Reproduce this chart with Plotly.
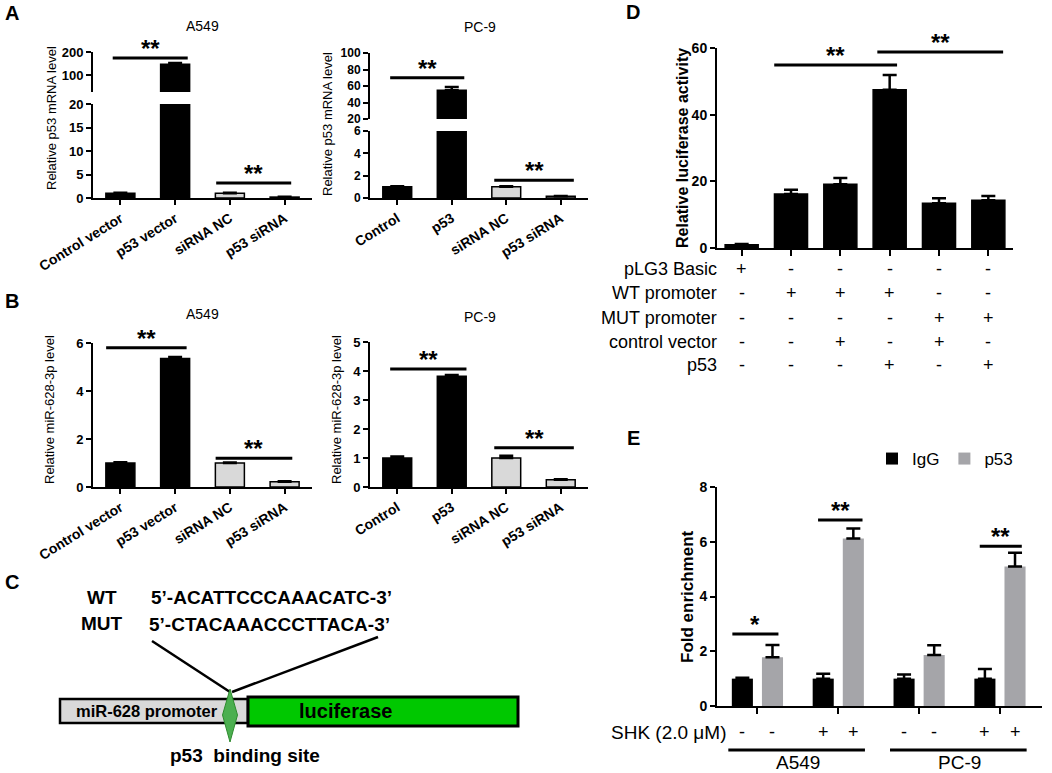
import plotly.graph_objects as go

W, H = 1052, 773
FONT = "Liberation Sans, Arial, Helvetica, sans-serif"

# ---------------- data ----------------
cats_a549 = ["Control vector", "p53 vector", "siRNA NC", "p53 siRNA"]
cats_pc9 = ["Control", "p53", "siRNA NC", "p53 siRNA"]
bar_colors_ab = ["#000000", "#000000", "#d9d9d9", "#d9d9d9"]

a549_mrna = [1.0, 147.0, 1.0, 0.2]
a549_mrna_err = [0.1, 5.5, 0.1, 0.05]
pc9_mrna = [1.0, 55.0, 1.0, 0.15]
pc9_mrna_err = [0.06, 3.8, 0.06, 0.03]

a549_mir = [1.0, 5.35, 1.0, 0.22]
a549_mir_err = [0.03, 0.07, 0.02, 0.02]
pc9_mir = [1.0, 3.82, 1.0, 0.25]
pc9_mir_err = [0.05, 0.04, 0.08, 0.02]

luc_groups = ["g1", "g2", "g3", "g4", "g5", "g6"]
luc_values = [1.0, 16.2, 19.1, 47.5, 13.4, 14.3]
luc_err = [0.2, 1.3, 1.9, 4.4, 1.5, 1.3]
luc_rows = ["pLG3 Basic", "WT promoter", "MUT promoter", "control vector", "p53"]
luc_table = [
    ["+", "-", "-", "-", "-", "-"],
    ["-", "+", "+", "+", "-", "-"],
    ["-", "-", "-", "-", "+", "+"],
    ["-", "-", "+", "-", "+", "-"],
    ["-", "-", "-", "+", "-", "+"],
]

chip_groups = ["A549 -", "A549 +", "PC-9 -", "PC-9 +"]
chip_igg = [1.0, 1.0, 1.0, 1.0]
chip_igg_err = [0.03, 0.18, 0.15, 0.35]
chip_p53 = [1.78, 6.12, 1.86, 5.10]
chip_p53_err = [0.45, 0.36, 0.36, 0.50]
chip_shk = ["-", "+", "-", "+"]
chip_cells = ["A549", "PC-9"]

# ---------------- helpers ----------------
def fx(p):
    return p / W


def fy(p):
    return 1 - p / H


BLACK = "#000000"
fig = go.Figure()
layout = {}
annotations = []
shapes = []

# subplot boxes in pixels: name -> (index, x0, x1, y_top, y_bottom)
boxes = {
    "a1l": (1, 93, 312, 104, 198),
    "a1u": (2, 93, 312, 52, 92),
    "a2l": (3, 370, 588, 131, 198),
    "a2u": (4, 370, 588, 53, 119),
    "b1": (5, 93, 312, 343, 487),
    "b2": (6, 370, 588, 342, 487),
    "d": (7, 717, 1013, 48, 248),
    "e": (8, 717, 1042, 487, 706),
}


def ax_names(key):
    i = boxes[key][0]
    s = "" if i == 1 else str(i)
    return "x" + s, "y" + s, "xaxis" + s, "yaxis" + s


def base_axis(**kw):
    d = dict(
        showgrid=False, zeroline=False, showline=True, linecolor=BLACK, linewidth=2,
        ticks="outside", ticklen=5, tickwidth=2, tickcolor=BLACK,
        tickfont=dict(family=FONT, size=13, color=BLACK, weight="bold"),
        fixedrange=True, automargin=False,
    )
    d.update(kw)
    return d


def set_axes(key, xkw, ykw):
    i, x0, x1, yt, yb = boxes[key]
    xn, yn, xl, yl = ax_names(key)
    layout[xl] = base_axis(domain=[fx(x0), fx(x1)], anchor=yn, **xkw)
    layout[yl] = base_axis(domain=[fy(yb), fy(yt)], anchor=xn, **ykw)


def err(arr):
    return dict(type="data", array=arr, arrayminus=[0] * len(arr), symmetric=False,
                color=BLACK, thickness=2.5, width=7)


def bar_trace(key, cats, vals, errs, colors, width, name=None, showlegend=False, line_w=1.5):
    xn, yn, _, _ = ax_names(key)
    return go.Bar(x=cats, y=vals, xaxis=xn, yaxis=yn, width=width, name=name,
                  showlegend=showlegend,
                  marker=dict(color=colors, line=dict(color=BLACK, width=line_w)),
                  error_y=err(errs))


def sig(key, x0, x1, yv, text="**", size=24, yshift=-6):
    xn, yn, _, _ = ax_names(key)
    shapes.append(dict(type="line", xref=xn, yref=yn, x0=x0, x1=x1, y0=yv, y1=yv,
                       line=dict(color=BLACK, width=3)))
    annotations.append(dict(xref=xn, yref=yn, x=(x0 + x1) / 2, y=yv, text=text,
                            showarrow=False, yanchor="bottom", yshift=yshift,
                            font=dict(family=FONT, size=size, color=BLACK, weight="bold")))


def text(x, y, s, size=13, bold=False, xanchor="center", angle=0, yanchor="middle", xref="paper"):
    annotations.append(dict(xref=xref, yref="paper", x=x if xref != "paper" else fx(x), y=fy(y),
                            text=s, showarrow=False, xanchor=xanchor, yanchor=yanchor,
                            textangle=angle,
                            font=dict(family=FONT, size=size, color=BLACK,
                                      weight="bold" if bold else "normal")))


xlab_font = dict(family=FONT, size=14, color=BLACK, weight="bold")
cat_range4 = [-0.5, 3.5]
small_tick = dict(family=FONT, size=12, color=BLACK, weight="bold")

# ---------------- Panel A ----------------
for key, cats, vals, errs in [("a1l", cats_a549, a549_mrna, a549_mrna_err),
                              ("a1u", cats_a549, a549_mrna, a549_mrna_err),
                              ("a2l", cats_pc9, pc9_mrna, pc9_mrna_err),
                              ("a2u", cats_pc9, pc9_mrna, pc9_mrna_err)]:
    fig.add_trace(bar_trace(key, cats, vals, errs, bar_colors_ab, 0.53))

set_axes("a1l", dict(type="category", range=cat_range4, tickangle=-32, tickfont=xlab_font),
         dict(range=[0, 20], tickvals=[0, 5, 10, 15, 20]))
set_axes("a1u", dict(type="category", range=cat_range4, visible=False),
         dict(range=[26.1, 200], tickvals=[100, 200]))
set_axes("a2l", dict(type="category", range=cat_range4, tickangle=-32, tickfont=xlab_font),
         dict(range=[0, 6], tickvals=[0, 2, 4, 6], tickfont=small_tick))
set_axes("a2u", dict(type="category", range=cat_range4, visible=False),
         dict(range=[20, 100], tickvals=[20, 40, 60, 80, 100], tickfont=small_tick))

sig("a1u", -0.14, 1.23, 174)
sig("a1l", 1.75, 3.12, 3.2)
sig("a2u", -0.13, 1.23, 70)
sig("a2l", 1.78, 3.24, 1.6)

text(202, 26, "A549", 14)
text(480, 27, "PC-9", 14)
text(51, 118, "Relative p53 mRNA level", 13, angle=-90)
text(327, 124, "Relative p53 mRNA level", 13, angle=-90)
text(3, 13, "A", 20, bold=True, xanchor="left")

# ---------------- Panel B ----------------
fig.add_trace(bar_trace("b1", cats_a549, a549_mir, a549_mir_err, bar_colors_ab, 0.53))
fig.add_trace(bar_trace("b2", cats_pc9, pc9_mir, pc9_mir_err, bar_colors_ab, 0.53))
set_axes("b1", dict(type="category", range=cat_range4, tickangle=-32, tickfont=xlab_font),
         dict(range=[0, 6], tickvals=[0, 2, 4, 6]))
set_axes("b2", dict(type="category", range=cat_range4, tickangle=-32, tickfont=xlab_font),
         dict(range=[0, 5], tickvals=[0, 1, 2, 3, 4, 5]))
sig("b1", -0.26, 1.21, 5.8)
sig("b1", 1.74, 3.14, 1.2)
sig("b2", -0.13, 1.27, 4.07)
sig("b2", 1.78, 3.24, 1.35)
text(202, 314, "A549", 14)
text(480, 317, "PC-9", 14)
text(50, 410, "Relative miR-628-3p level", 13, angle=-90)
text(337, 410, "Relative miR-628-3p level", 13, angle=-90)
text(3, 301, "B", 20, bold=True, xanchor="left")

# ---------------- Panel C (schematic) ----------------
text(3, 582, "C", 20, bold=True, xanchor="left")
text(102, 597, "WT", 19, bold=True)
text(102, 623, "MUT", 19, bold=True)
text(271, 597, "5’-ACATTCCCAAACATC-3’", 19, bold=True)
text(269, 624, "5’-CTACAAACCCTTACA-3’", 19, bold=True)
shapes += [
    dict(type="line", xref="paper", yref="paper", x0=fx(152), y0=fy(641), x1=fx(230), y1=fy(692),
         line=dict(color=BLACK, width=2.5)),
    dict(type="line", xref="paper", yref="paper", x0=fx(378), y0=fy(637), x1=fx(232), y1=fy(692),
         line=dict(color=BLACK, width=2.5)),
    dict(type="rect", xref="paper", yref="paper", x0=fx(60), x1=fx(248), y0=fy(723), y1=fy(699),
         fillcolor="#d9d9d9", line=dict(color=BLACK, width=2.5)),
    dict(type="rect", xref="paper", yref="paper", x0=fx(248), x1=fx(518), y0=fy(726), y1=fy(697),
         fillcolor="#00c800", line=dict(color=BLACK, width=3)),
    dict(type="path", xref="paper", yref="paper",
         path=f"M {fx(230)} {fy(689)} L {fx(237.5)} {fy(715)} L {fx(230)} {fy(742)} L {fx(222.5)} {fy(715)} Z",
         fillcolor="#4caf50", line=dict(color="#2e8b2e", width=1)),
]
text(147, 711, "miR-628 promoter", 16.5, bold=True)
text(345, 711, "luciferase", 20, bold=True)
text(245, 755, "p53  binding site", 19, bold=True)

# ---------------- Panel D ----------------
fig.add_trace(bar_trace("d", luc_groups, luc_values, luc_err, BLACK, 0.67))
set_axes("d", dict(type="category", range=[-0.5, 5.5], showticklabels=False, ticklen=6),
         dict(range=[0, 60], tickvals=[0, 20, 40, 60],
              tickfont=dict(family=FONT, size=14, color=BLACK, weight="bold")))
sig("d", 0.66, 3.15, 54.9)
sig("d", 2.75, 5.3, 58.8)
text(682, 148, "Relative luciferase activity", 16, bold=True, angle=-90)
text(633, 12, "D", 20, bold=True)
row_y = [269, 293, 318, 342, 365]
for r, (lab, ry) in enumerate(zip(luc_rows, row_y)):
    text(719, ry, lab, 18, xanchor="right")
    for g, sym in zip(luc_groups, luc_table[r]):
        text(g, ry, sym, 18, xref="x7")

# ---------------- Panel E ----------------
BARGAP = 0.255
half = (1 - BARGAP) / 4
fig.add_trace(go.Bar(x=chip_groups, y=chip_igg, xaxis="x8", yaxis="y8", name="IgG",
                     marker=dict(color=BLACK, line=dict(width=0)), error_y=err(chip_igg_err)))
fig.add_trace(go.Bar(x=chip_groups, y=chip_p53, xaxis="x8", yaxis="y8", name="p53",
                     marker=dict(color="#a5a5a9", line=dict(width=0)), error_y=err(chip_p53_err)))
set_axes("e", dict(type="category", range=[-0.5, 3.52], showticklabels=False, ticklen=6),
         dict(range=[0, 8], tickvals=[0, 2, 4, 6, 8],
              tickfont=dict(family=FONT, size=14, color=BLACK, weight="bold")))
sig("e", -0.31, 0.26, 2.63, text="*")
sig("e", 0.75, 1.30, 6.79)
sig("e", 2.75, 3.27, 5.84)
text(687, 597, "Fold enrichment", 17, bold=True, angle=-90)
text(633, 438, "E", 20, bold=True)
text(728, 732, "SHK (2.0 μM)", 19, xanchor="right")
for gi, (g, sym) in enumerate(zip(chip_groups, chip_shk)):
    for off in (-half, half):
        text(gi + off, 732, sym, 18, xref="x8")
for ci, cell in enumerate(chip_cells):
    c = 2 * ci + 0.5
    shapes.append(dict(type="line", xref="x8", yref="paper", x0=c - 0.86, x1=c + 0.83,
                       y0=fy(750), y1=fy(750), line=dict(color=BLACK, width=3)))
    text(c, 762, cell, 19, xref="x8")

fig.update_layout(
    template="none",
    width=W, height=H, margin=dict(l=0, r=0, t=0, b=0, autoexpand=False),
    paper_bgcolor="white", plot_bgcolor="white",
    barmode="group", bargap=BARGAP, bargroupgap=0.3,
    font=dict(family=FONT, color=BLACK),
    showlegend=True,
    legend=dict(orientation="h", x=fx(872), y=fy(441), xanchor="left", yanchor="top",
                font=dict(family=FONT, size=17, color=BLACK), bgcolor="rgba(0,0,0,0)",
                itemwidth=30, traceorder="normal"),
    annotations=annotations, shapes=shapes,
    **layout,
)
for tr in fig.data:
    if tr.name not in ("IgG", "p53"):
        tr.showlegend = False

fig.write_html(
    "out.html",
    config={"displayModeBar": False},
    post_script="document.body.style.margin='0px';document.body.style.overflow='hidden';",
)
